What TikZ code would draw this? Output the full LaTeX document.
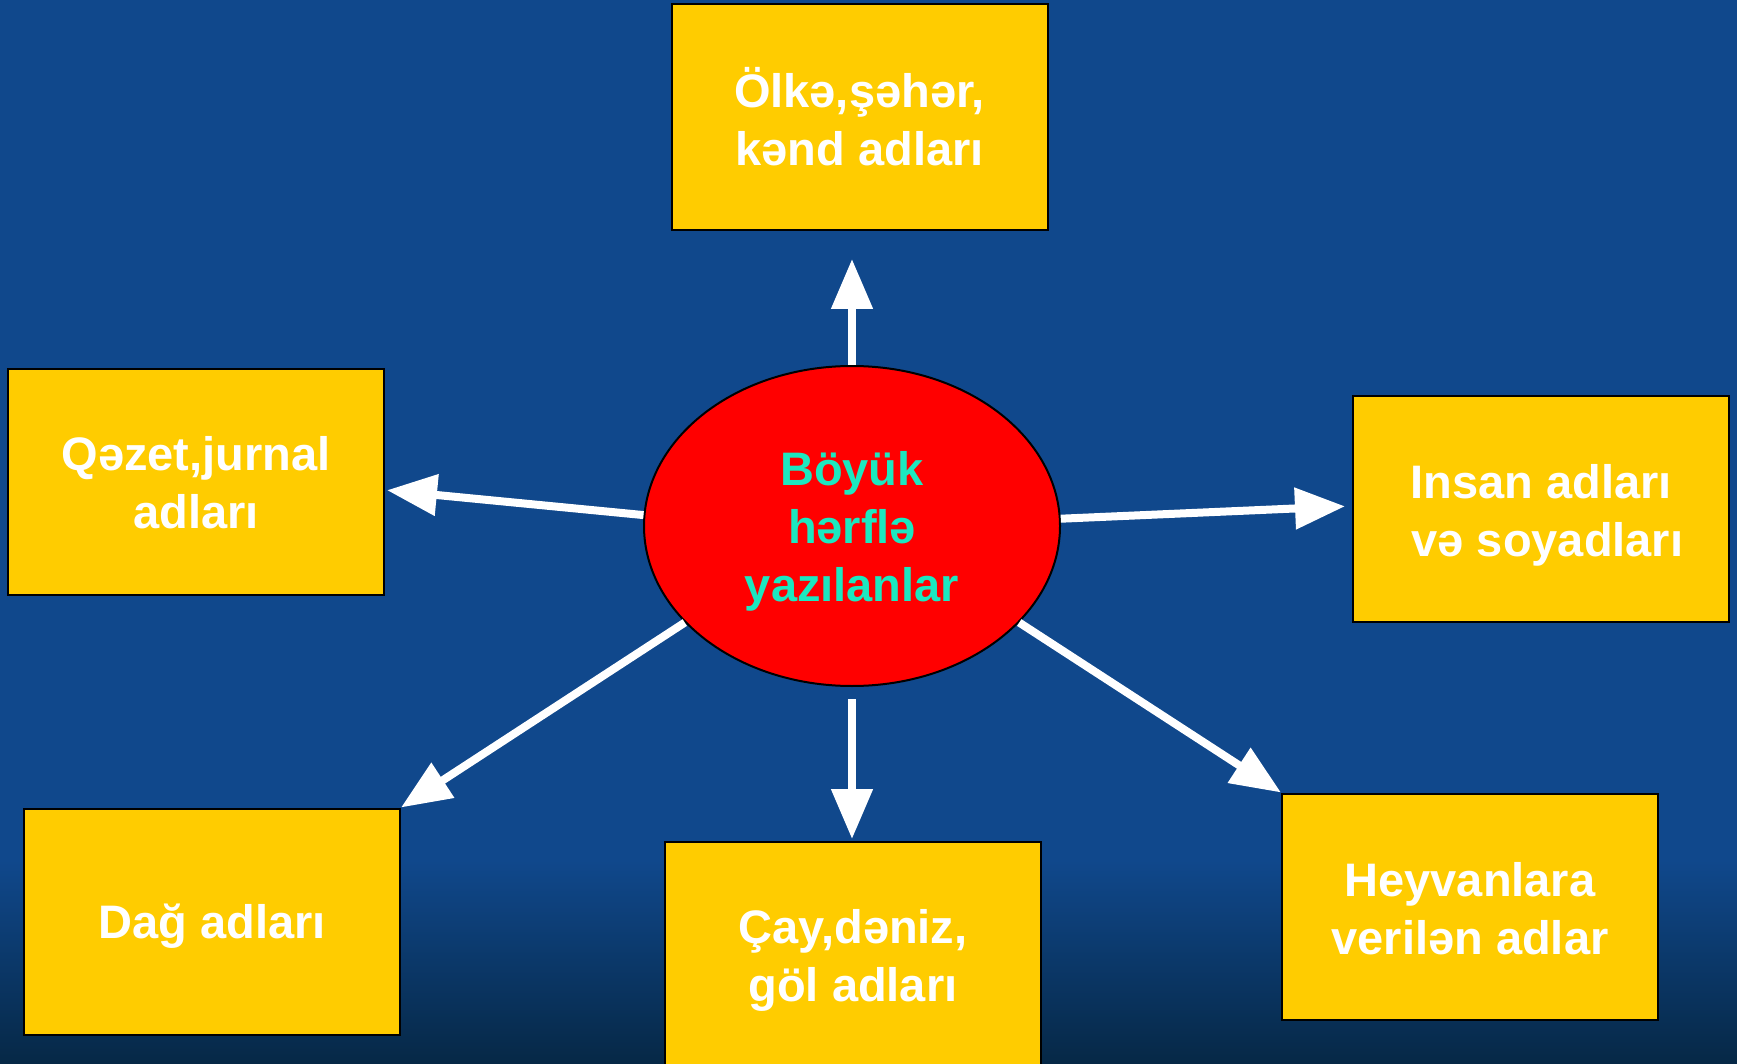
\documentclass[tikz,border=0pt]{standalone}
\usepackage{fontspec}
\setmainfont{Liberation Sans}
\usetikzlibrary{shapes.geometric,arrows.meta}
\definecolor{bgblue}{RGB}{16,72,140}
\definecolor{bgdark}{RGB}{6,40,70}
\definecolor{boxyellow}{RGB}{255,204,0}
\definecolor{ovalred}{RGB}{255,0,0}
\definecolor{aqua}{RGB}{28,232,192}
\begin{document}
\begin{tikzpicture}[x=1pt,y=-1pt,
  catbox/.style={draw=black,line width=2pt,fill=boxyellow,minimum width=376pt,minimum height=226pt,inner sep=0pt},
  boxtext/.style={inner sep=0pt,align=center,text=white,font=\fontsize{47}{58}\selectfont\bfseries},
  hub/.style={ellipse,draw=black,line width=2pt,fill=ovalred,minimum width=416pt,minimum height=320pt,inner sep=0pt},
  hubtext/.style={inner sep=0pt,align=center,text=aqua,font=\fontsize{47}{58}\selectfont\bfseries},
  arr/.style={draw=white,line width=8pt,-{Triangle[length=50pt,width=40pt]}}]
\useasboundingbox (0,0) rectangle (1737,1064);
\fill[bgblue] (0,0) rectangle (1737,861);
\shade[top color=bgblue,bottom color=bgdark] (0,860) rectangle (1737,1064);
\node[hub,label={[hubtext,yshift=-5pt]center:{Böyük\\hərflə\\yazılanlar}}] (c) at (852,526) {};
\node[catbox,label={[boxtext]center:{Ölkə,şəhər,\\kənd adları}}] (top) at (859.5,117) {};
\node[catbox,label={[boxtext,yshift=-1pt]center:{Qəzet,jurnal\\adları}}] (qezet) at (196,482) {};
\node[catbox,label={[boxtext,yshift=-6pt]center:{Insan adları\\\ və soyadları}}] (insan) at (1541,509) {};
\node[catbox,label={[boxtext,yshift=-5pt]center:{Dağ adları}}] (dag) at (212,921.5) {};
\node[catbox,label={[boxtext,yshift=-5pt]center:{Çay,dəniz,\\göl adları}}] (cay) at (853,955) {};
\node[catbox,label={[boxtext,yshift=-2pt]center:{Heyvanlara\\verilən adlar}}] (hey) at (1470,906.5) {};
\draw[arr,shorten >=28pt] (c.north) -- (c.north |- top.south);
\draw[arr,shorten >=2pt] (c.177.5) -- ([yshift=-8pt]qezet.east);
\draw[arr,shorten >=7pt] (c.2) -- ([yshift=3pt]insan.west);
\draw[arr] (c.210) -- (dag.north east);
\draw[arr,shorten <=12pt,shorten >=2pt] (c.south) -- (c.south |- cay.north);
\draw[arr] (c.330) -- (hey.north west);
\end{tikzpicture}
\end{document}
